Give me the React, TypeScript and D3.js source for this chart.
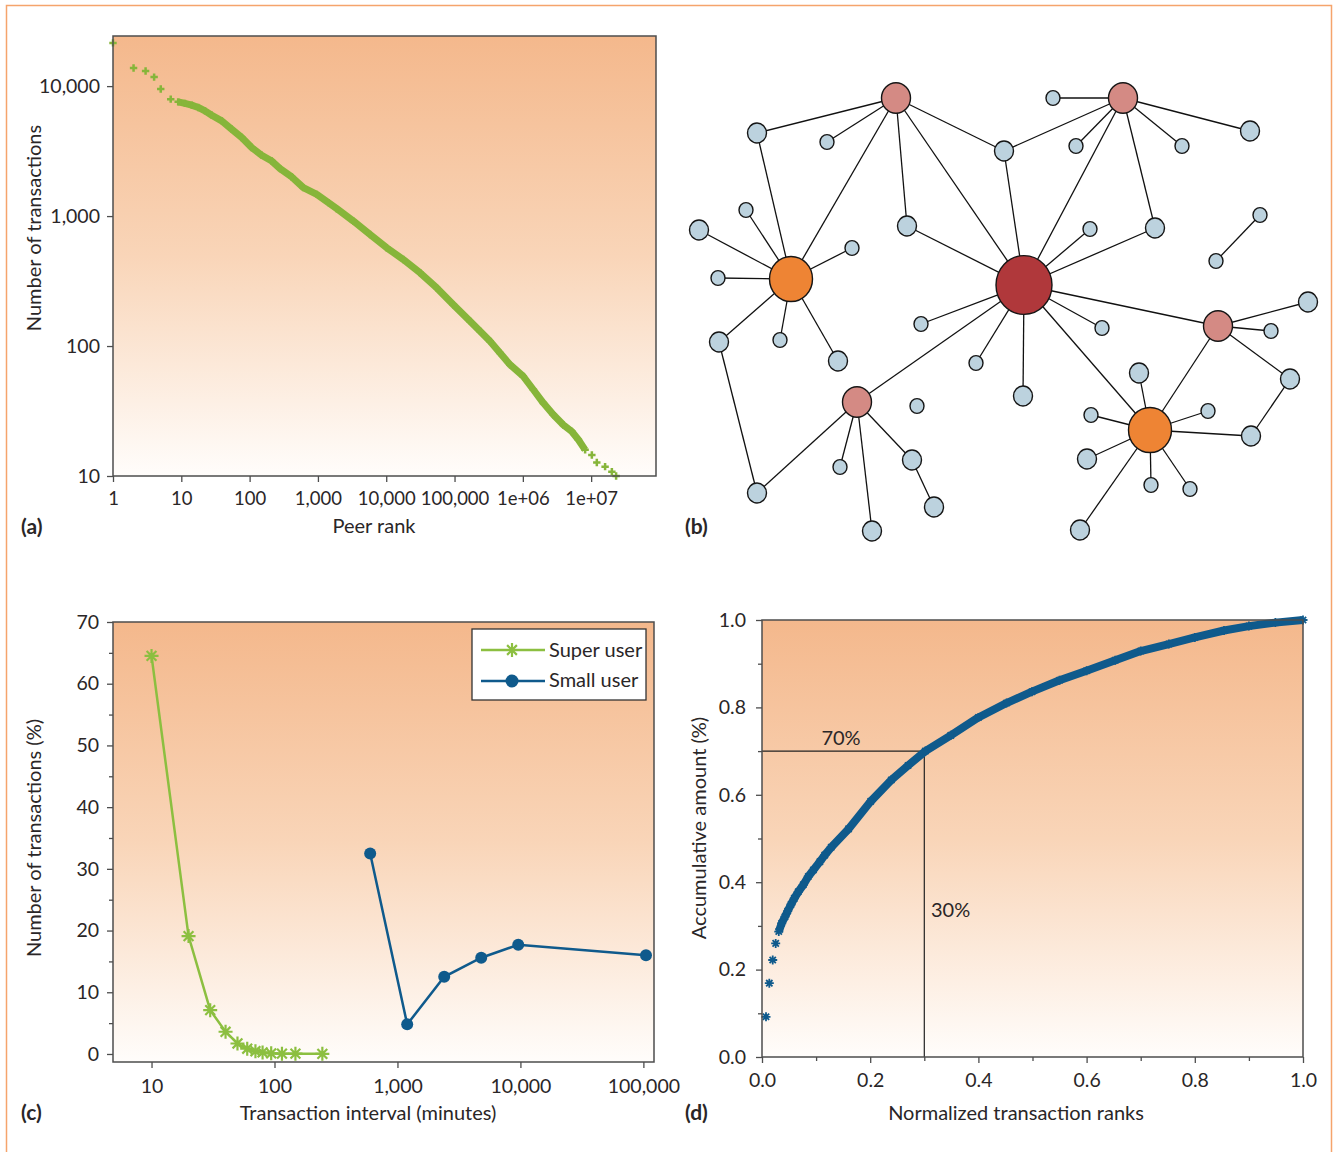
import React, { useEffect, useRef } from "react";
import * as d3 from "d3";

const W = 1338;
const H = 1152;
const FONT = "Lato, 'Open Sans', sans-serif";
const INK = "#2a2627";
const FRAME = "#4d4d4d";
const GREEN_A = "#86b53a";
const GREEN_C = "#8cbf40";
const BLUE = "#0f5a8c";

// (a) number of transactions per peer, by peer rank
const peerRank = [
  1, 2, 3, 4, 5, 7, 9, 11.3, 14.2, 17.7, 22.2, 27.9, 39, 54.7, 76.7, 107, 150,
  211, 279, 414, 612, 962, 1422, 1888, 3306, 5800, 10180, 17800, 31300, 55000,
  96200, 169000, 237000, 331000, 464000, 650000, 1018000, 1428000, 2000000,
  2800000, 3930000, 5210000, 6510000, 8160000, 10240000, 12100000, 16000000,
  20100000, 23200000,
];
const peerTx = [
  21500, 13770, 13060, 11730, 9490, 7940, 7570, 7360, 7140, 6850, 6450, 5975,
  5400, 4660, 4020, 3370, 2940, 2650, 2320, 2000, 1655, 1470, 1270, 1140, 915,
  722, 570, 463, 366, 280, 208, 155, 130, 109, 88.4, 71.8, 58.3, 46.1, 36.4,
  29.6, 24.7, 22.0, 19.0, 15.9, 14.5, 12.7, 11.8, 10.8, 10,
];
const rankTicks = [1, 10, 100, 1e3, 1e4, 1e5, 1e6, 1e7];
const rankTickLabels = ["1", "10", "100", "1,000", "10,000", "100,000", "1e+06", "1e+07"];
const txTicks = [10, 100, 1000, 10000];
const txTickLabels = ["10", "100", "1,000", "10,000"];

// (b) peer network (layout units)
const nodeIds = [
  "hub", "tl", "tr", "l", "bl", "r", "br",
  "n1", "n2", "n3", "n4", "n5", "n6", "n7", "n8", "n9", "n10",
  "n11", "n12", "n13", "n14", "n15", "n16", "n17", "n18", "n19", "n20",
  "n21", "n22", "n23", "n24", "n25", "n26", "n27", "n28", "n29", "n30",
  "n31", "n32", "n33", "n34", "n35", "n36", "n37", "n38", "n39", "n40",
];
const nodeX = [
  344, 216, 443, 111, 177, 538, 470,
  77, 147, 324, 373, 396, 502, 570, 227, 410, 475,
  580, 536, 66, 19, 172, 38, 39, 100, 158, 241,
  296, 343, 422, 628, 591, 610, 459, 411, 528, 571,
  407, 471, 510, 400, 77, 160, 192, 232, 254, 237,
];
const nodeY = [
  205, 18, 18, 199, 322, 246, 350,
  53, 62, 71, 18, 66, 66, 51, 146, 149, 148,
  135, 181, 130, 150, 168, 198, 262, 260, 281, 244,
  283, 316, 248, 222, 251, 299, 293, 335, 331, 356,
  379, 405, 409, 450, 413, 387, 451, 380, 427, 326,
];
const nodeKind = [
  "hub", "mid", "mid", "super", "mid", "mid", "super",
  "big", "small", "big", "small", "small", "small", "big", "big", "small", "big",
  "small", "small", "small", "big", "small", "small", "big", "small", "big", "small",
  "small", "big", "small", "big", "small", "big", "big", "small", "small", "big",
  "big", "small", "small", "big", "big", "small", "big", "big", "big", "small",
];
const links = [
  ["hub", "tl"], ["hub", "tr"], ["hub", "n3"], ["hub", "n8"], ["hub", "n9"],
  ["hub", "n10"], ["hub", "n20"], ["hub", "n21"], ["hub", "n22"], ["hub", "n23"],
  ["hub", "r"], ["hub", "br"], ["hub", "bl"],
  ["tl", "n1"], ["tl", "n2"], ["tl", "l"], ["tl", "n8"], ["tl", "n3"],
  ["tr", "n4"], ["tr", "n3"], ["tr", "n5"], ["tr", "n10"], ["tr", "n6"], ["tr", "n7"],
  ["l", "n1"], ["l", "n13"], ["l", "n14"], ["l", "n15"], ["l", "n16"], ["l", "n17"],
  ["l", "n18"], ["l", "n19"], ["n17", "n35"],
  ["bl", "n35"], ["bl", "n36"], ["bl", "n37"], ["bl", "n38"], ["n38", "n39"],
  ["br", "r"], ["br", "n27"], ["br", "n28"], ["br", "n29"], ["br", "n30"],
  ["br", "n31"], ["br", "n32"], ["br", "n33"], ["br", "n34"],
  ["r", "n24"], ["r", "n25"], ["r", "n26"], ["n26", "n30"], ["n11", "n12"],
];
const kindRadius = { hub: 28, super: 21.5, mid: 14.5, big: 9.5, small: 7 };
const kindFill = { hub: "#b0383b", super: "#ee8434", mid: "#d48a84", big: "#bcd2de", small: "#bcd2de" };

// (c) transaction interval distribution
const superInterval = [10, 20, 30, 40, 50, 60, 70, 80, 94, 115, 148, 245];
const superShare = [64.5, 19.1, 7.1, 3.6, 1.7, 0.85, 0.45, 0.25, 0.1, 0.05, 0.05, 0.02];
const smallInterval = [600, 1200, 2400, 4800, 9600, 105000];
const smallShare = [32.5, 4.8, 12.5, 15.6, 17.7, 16.0];
const intervalTicks = [10, 100, 1000, 10000, 100000];
const intervalTickLabels = ["10", "100", "1,000", "10,000", "100,000"];
const shareTicks = [0, 10, 20, 30, 40, 50, 60, 70];
const shareMinor = [5, 15, 25, 35, 45, 55, 65];

// (d) accumulative amount vs normalized rank
const normRank = [
  0.0074, 0.0135, 0.0198, 0.0253, 0.031, 0.0364, 0.0425, 0.0475, 0.0536, 0.0597,
  0.067, 0.0763, 0.0856, 0.095, 0.107, 0.116, 0.128, 0.16, 0.201, 0.239, 0.27,
  0.302, 0.349, 0.4, 0.452, 0.499, 0.55, 0.6, 0.653, 0.7, 0.752, 0.8, 0.854,
  0.9, 0.949, 1.0,
];
const accAmount = [
  0.092, 0.169, 0.222, 0.26, 0.287, 0.306, 0.321, 0.334, 0.349, 0.363, 0.378,
  0.394, 0.413, 0.428, 0.447, 0.462, 0.48, 0.522, 0.585, 0.634, 0.667, 0.7,
  0.736, 0.777, 0.81, 0.836, 0.862, 0.884, 0.908, 0.929, 0.945, 0.96, 0.976,
  0.986, 0.994, 1.0,
];
const unitTicks = [0, 0.2, 0.4, 0.6, 0.8, 1.0];
const unitMinor = [0.1, 0.3, 0.5, 0.7, 0.9];
const unitTickLabels = ["0.0", "0.2", "0.4", "0.6", "0.8", "1.0"];
const cutRank = 0.3;
const cutAmount = 0.7;

const TICK_FS = 19.5;
const TITLE_FS = 20;

const plusPath = "M-3.7,0H3.7M0,-3.7V3.7";
const star = (s) =>
  `M${-s},0H${s}M0,${-s}V${s}M${-s * 0.7},${-s * 0.7}L${s * 0.7},${s * 0.7}M${-s * 0.7},${s * 0.7}L${s * 0.7},${-s * 0.7}`;

function styleAxis(sel, fs = TICK_FS) {
  sel.select(".domain").remove();
  sel.selectAll("line").attr("stroke", FRAME).attr("stroke-width", 1.3);
  sel.selectAll("text")
    .attr("font-family", FONT)
    .attr("font-size", fs)
    .attr("fill", INK);
}

function frame(svg, x, y) {
  const [x0, x1] = x.range();
  const [y0, y1] = y.range();
  svg.append("rect")
    .attr("x", x0).attr("y", y1)
    .attr("width", x1 - x0).attr("height", y0 - y1)
    .attr("fill", "url(#bg)");
}

function frameLine(svg, x, y) {
  const [x0, x1] = x.range();
  const [y0, y1] = y.range();
  svg.append("rect")
    .attr("x", x0).attr("y", y1)
    .attr("width", x1 - x0).attr("height", y0 - y1)
    .attr("fill", "none")
    .attr("stroke", FRAME)
    .attr("stroke-width", 1.5);
}

function label(svg, text, x, y, opts = {}) {
  const t = svg.append("text")
    .attr("x", x).attr("y", y)
    .attr("font-family", FONT)
    .attr("font-size", opts.size || TITLE_FS)
    .attr("font-weight", opts.bold ? 700 : 400)
    .attr("fill", INK)
    .attr("text-anchor", opts.anchor || "middle")
    .text(text);
  if (opts.rotate) t.attr("transform", `rotate(-90,${x},${y})`);
  return t;
}

const App = () => {
  const ref = useRef(null);

  useEffect(() => {
    const svg = d3.select(ref.current);
    svg.selectAll("*").remove();

    const defs = svg.append("defs");
    const grad = defs.append("linearGradient")
      .attr("id", "bg").attr("x1", 0).attr("y1", 0).attr("x2", 0).attr("y2", 1);
    grad.append("stop").attr("offset", 0).attr("stop-color", "#f4b88c");
    grad.append("stop").attr("offset", 0.5).attr("stop-color", "#f9d5b8");
    grad.append("stop").attr("offset", 1).attr("stop-color", "#fffdfb");

    // outer border
    svg.append("path")
      .attr("d", `M6.5,${H}V5.5H1331.5V${H}`)
      .attr("fill", "none")
      .attr("stroke", "#f5a46c")
      .attr("stroke-width", 1.5);

    // ---------- (a) ----------
    const xa = d3.scaleLog().domain([1, 8.9e7]).range([113, 656]);
    const ya = d3.scaleLog().domain([10, 24300]).range([476, 36]);
    frame(svg, xa, ya);
    svg.append("g").attr("transform", "translate(0,476)")
      .call(d3.axisBottom(xa).tickValues(rankTicks)
        .tickFormat((d, i) => rankTickLabels[i]).tickSize(6).tickPadding(10))
      .call((s) => styleAxis(s, 18.5));
    svg.append("g").attr("transform", "translate(113,0)")
      .call(d3.axisLeft(ya).tickValues(txTicks)
        .tickFormat((d, i) => txTickLabels[i]).tickSize(6).tickPadding(7))
      .call(styleAxis);
    const peerPts = peerRank.map((r, i) => [r, peerTx[i]]);
    const lineA = d3.line().x((d) => xa(d[0])).y((d) => ya(d[1]));
    svg.append("path")
      .attr("d", lineA(peerPts.slice(6, 44)))
      .attr("fill", "none")
      .attr("stroke", GREEN_A)
      .attr("stroke-width", 7)
      .attr("stroke-linejoin", "round");
    svg.append("g").selectAll("path")
      .data(peerPts)
      .enter()
      .append("path")
      .attr("transform", (d) => `translate(${xa(d[0])},${ya(d[1])})`)
      .attr("d", plusPath)
      .attr("stroke", GREEN_A)
      .attr("stroke-width", 2.5);
    frameLine(svg, xa, ya);
    label(svg, "Peer rank", 374, 533);
    label(svg, "Number of transactions", 41, 228, { rotate: true });
    label(svg, "(a)", 21, 534, { anchor: "start", bold: true, size: 21 });

    // ---------- (b) ----------
    const xb = d3.scaleLinear().domain([0, 650]).range([680, 1330]);
    const yb = d3.scaleLinear().domain([0, 480]).range([80, 560]);
    const nodes = nodeIds.map((id, i) => ({ id, x: nodeX[i], y: nodeY[i], kind: nodeKind[i] }));
    const byId = new Map(nodes.map((n) => [n.id, n]));
    svg.append("g").selectAll("line")
      .data(links)
      .enter()
      .append("line")
      .attr("x1", (d) => xb(byId.get(d[0]).x))
      .attr("y1", (d) => yb(byId.get(d[0]).y))
      .attr("x2", (d) => xb(byId.get(d[1]).x))
      .attr("y2", (d) => yb(byId.get(d[1]).y))
      .attr("stroke", "#111")
      .attr("stroke-width", 1.3);
    svg.append("g").selectAll("ellipse")
      .data(nodes)
      .enter()
      .append("ellipse")
      .attr("cx", (d) => xb(d.x))
      .attr("cy", (d) => yb(d.y))
      .attr("rx", (d) => kindRadius[d.kind])
      .attr("ry", (d) => kindRadius[d.kind] * 1.05)
      .attr("fill", (d) => kindFill[d.kind])
      .attr("stroke", "#151515")
      .attr("stroke-width", 1.4);
    label(svg, "(b)", 685, 534, { anchor: "start", bold: true, size: 21 });

    // ---------- (c) ----------
    const xc = d3.scaleLog().domain([4.86, 122000]).range([113, 654]);
    const yc = d3.scaleLinear().domain([-1.3, 70]).range([1062, 622]);
    frame(svg, xc, yc);
    svg.append("g").attr("transform", "translate(0,1062)")
      .call(d3.axisBottom(xc).tickValues(intervalTicks)
        .tickFormat((d, i) => intervalTickLabels[i]).tickSize(6).tickPadding(11))
      .call(styleAxis);
    svg.append("g").attr("transform", "translate(113,0)")
      .call(d3.axisLeft(yc).tickValues(shareTicks).tickFormat(d3.format("d"))
        .tickSize(6).tickPadding(8))
      .call(styleAxis);
    svg.append("g").attr("transform", "translate(113,0)")
      .call(d3.axisLeft(yc).tickValues(shareMinor).tickFormat(() => "").tickSize(4))
      .call(styleAxis);

    const lineC = d3.line().x((d) => xc(d[0])).y((d) => yc(d[1]));
    const superPts = superInterval.map((v, i) => [v, superShare[i]]);
    const smallPts = smallInterval.map((v, i) => [v, smallShare[i]]);
    svg.append("path").attr("d", lineC(superPts))
      .attr("fill", "none").attr("stroke", GREEN_C).attr("stroke-width", 2.5);
    svg.append("g").selectAll("path")
      .data(superPts)
      .enter()
      .append("path")
      .attr("transform", (d) => `translate(${xc(d[0])},${yc(d[1])})`)
      .attr("d", star(7))
      .attr("stroke", GREEN_C)
      .attr("stroke-width", 2.2);
    svg.append("path").attr("d", lineC(smallPts))
      .attr("fill", "none").attr("stroke", BLUE).attr("stroke-width", 2.5);
    svg.append("g").selectAll("circle")
      .data(smallPts)
      .enter()
      .append("circle")
      .attr("cx", (d) => xc(d[0]))
      .attr("cy", (d) => yc(d[1]))
      .attr("r", 6)
      .attr("fill", BLUE);
    frameLine(svg, xc, yc);

    // legend
    const lg = svg.append("g").attr("transform", "translate(472,629)");
    lg.append("rect").attr("width", 174).attr("height", 71)
      .attr("fill", "#fff").attr("stroke", "#333").attr("stroke-width", 1.3);
    lg.append("line").attr("x1", 9).attr("x2", 73).attr("y1", 21).attr("y2", 21)
      .attr("stroke", GREEN_C).attr("stroke-width", 2.5);
    lg.append("path").attr("transform", "translate(40,21)").attr("d", star(7))
      .attr("stroke", GREEN_C).attr("stroke-width", 2.2);
    lg.append("line").attr("x1", 9).attr("x2", 73).attr("y1", 52).attr("y2", 52)
      .attr("stroke", BLUE).attr("stroke-width", 2.5);
    lg.append("circle").attr("cx", 40).attr("cy", 52).attr("r", 6.5).attr("fill", BLUE);
    label(lg, "Super user", 77, 28, { anchor: "start" });
    label(lg, "Small user", 77, 58, { anchor: "start" });

    label(svg, "Transaction interval (minutes)", 368, 1120);
    label(svg, "Number of transactions (%)", 41, 838, { rotate: true });
    label(svg, "(c)", 21, 1120, { anchor: "start", bold: true, size: 21 });

    // ---------- (d) ----------
    const xd = d3.scaleLinear().domain([0, 1]).range([762, 1303]);
    const yd = d3.scaleLinear().domain([0, 1]).range([1057, 620]);
    frame(svg, xd, yd);
    svg.append("g").attr("transform", "translate(0,1057)")
      .call(d3.axisBottom(xd).tickValues(unitTicks)
        .tickFormat((d, i) => unitTickLabels[i]).tickSize(6).tickPadding(10))
      .call(styleAxis);
    svg.append("g").attr("transform", "translate(0,1057)")
      .call(d3.axisBottom(xd).tickValues(unitMinor).tickFormat(() => "").tickSize(4))
      .call(styleAxis);
    svg.append("g").attr("transform", "translate(762,0)")
      .call(d3.axisLeft(yd).tickValues(unitTicks)
        .tickFormat((d, i) => unitTickLabels[i]).tickSize(6).tickPadding(10))
      .call(styleAxis);
    svg.append("g").attr("transform", "translate(762,0)")
      .call(d3.axisLeft(yd).tickValues(unitMinor).tickFormat(() => "").tickSize(4))
      .call(styleAxis);

    // 70% / 30% guide
    svg.append("path")
      .attr("d", `M${xd(0)},${yd(cutAmount)}H${xd(cutRank)}V${yd(0)}`)
      .attr("fill", "none")
      .attr("stroke", "#222")
      .attr("stroke-width", 1.2);

    const accPts = normRank.map((v, i) => [v, accAmount[i]]);
    const lineD = d3.line().x((d) => xd(d[0])).y((d) => yd(d[1]));
    svg.append("path")
      .attr("d", lineD(accPts.slice(4)))
      .attr("fill", "none")
      .attr("stroke", BLUE)
      .attr("stroke-width", 8)
      .attr("stroke-linejoin", "round");
    svg.append("g").selectAll("path")
      .data(accPts)
      .enter()
      .append("path")
      .attr("transform", (d) => `translate(${xd(d[0])},${yd(d[1])})`)
      .attr("d", star(4.5))
      .attr("stroke", BLUE)
      .attr("stroke-width", 1.8);
    frameLine(svg, xd, yd);

    label(svg, "70%", 841, 745);
    label(svg, "30%", 931, 917, { anchor: "start" });
    label(svg, "Normalized transaction ranks", 1016, 1120);
    label(svg, "Accumulative amount (%)", 706, 828, { rotate: true });
    label(svg, "(d)", 685, 1120, { anchor: "start", bold: true, size: 21 });
  }, []);

  return (
    <svg
      ref={ref}
      width={W}
      height={H}
      style={{ position: "absolute", left: 0, top: 0, background: "#fff" }}
    />
  );
};

export default App;
